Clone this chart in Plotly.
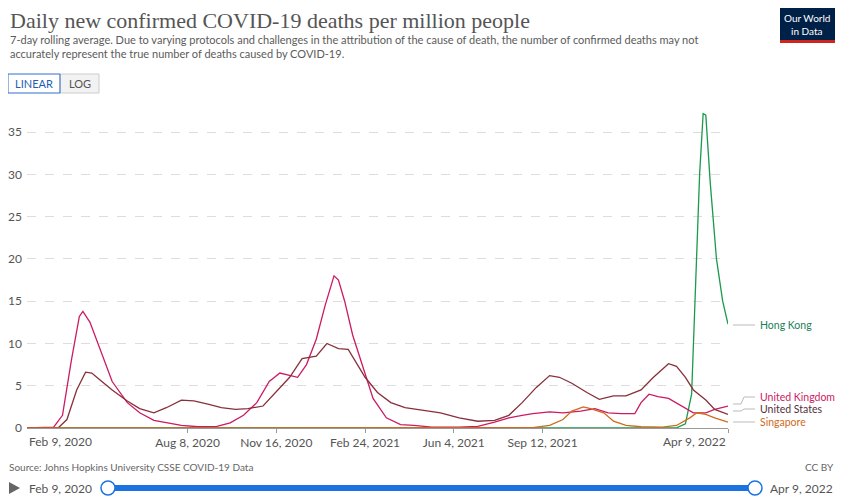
import plotly.graph_objects as go

uk_d = ["2020-02-09","2020-03-10","2020-03-20","2020-03-30","2020-04-08","2020-04-12","2020-04-20","2020-05-01","2020-05-15","2020-06-01","2020-06-15","2020-07-01","2020-07-15","2020-08-01","2020-08-20","2020-09-10","2020-09-25","2020-10-10","2020-10-25","2020-11-08","2020-11-20","2020-12-01","2020-12-10","2020-12-20","2020-12-31","2021-01-10","2021-01-20","2021-01-25","2021-02-01","2021-02-10","2021-02-24","2021-03-05","2021-03-20","2021-04-05","2021-04-20","2021-05-10","2021-06-10","2021-07-01","2021-07-20","2021-08-05","2021-08-20","2021-09-01","2021-09-20","2021-10-05","2021-10-25","2021-11-10","2021-11-25","2021-12-10","2021-12-25","2022-01-01","2022-01-10","2022-01-20","2022-02-01","2022-02-15","2022-03-01","2022-03-15","2022-03-25","2022-04-09"]
uk_v = [0,0.1,1.5,8,13.2,13.8,12.5,9.5,5.5,3,1.8,0.9,0.6,0.3,0.15,0.2,0.6,1.5,3,5.5,6.5,6.2,6,7.5,10.5,14.5,18,17.5,15,11,6.5,3.5,1.2,0.4,0.3,0.1,0.1,0.2,0.7,1.2,1.5,1.7,1.9,1.8,2.0,2.3,1.8,1.7,1.7,3,4.0,3.7,3.5,2.6,1.8,1.8,2.2,2.6]

us_d = ["2020-02-09","2020-03-15","2020-03-25","2020-04-05","2020-04-15","2020-04-22","2020-05-01","2020-05-15","2020-06-01","2020-06-15","2020-07-01","2020-07-15","2020-08-01","2020-08-15","2020-09-01","2020-09-15","2020-10-01","2020-10-15","2020-11-01","2020-11-16","2020-12-01","2020-12-15","2020-12-31","2021-01-12","2021-01-25","2021-02-05","2021-02-24","2021-03-10","2021-03-25","2021-04-10","2021-05-01","2021-05-20","2021-06-10","2021-07-01","2021-07-20","2021-08-05","2021-08-20","2021-09-05","2021-09-20","2021-10-01","2021-10-15","2021-11-01","2021-11-15","2021-12-01","2021-12-15","2022-01-01","2022-01-15","2022-02-01","2022-02-10","2022-02-20","2022-03-01","2022-03-15","2022-03-25","2022-04-09"]
us_v = [0,0,1,4.5,6.6,6.5,5.7,4.5,3.2,2.3,1.8,2.4,3.3,3.2,2.8,2.4,2.2,2.3,2.6,4.3,6,8.2,8.5,10,9.4,9.3,6,4.2,3,2.4,2.1,1.8,1.2,0.8,0.9,1.5,3,4.8,6.2,6,5.3,4.2,3.4,3.8,3.8,4.5,6,7.6,7.3,6,4.5,3.3,2.2,1.6]

hk_d = ["2020-02-09","2020-08-10","2020-09-01","2022-02-10","2022-02-20","2022-02-27","2022-03-03","2022-03-08","2022-03-12","2022-03-15","2022-03-20","2022-03-27","2022-04-03","2022-04-09"]
hk_v = [0,0.05,0,0.02,0.5,4,15,30,37.2,37,29,20,15,12.3]

sg_d = ["2020-02-09","2021-09-01","2021-09-20","2021-10-05","2021-10-15","2021-10-28","2021-11-05","2021-11-20","2021-12-01","2021-12-15","2022-01-01","2022-01-25","2022-02-10","2022-02-25","2022-03-05","2022-03-15","2022-03-25","2022-04-09"]
sg_v = [0,0.05,0.3,1.0,2.0,2.5,2.3,1.8,0.8,0.3,0.15,0.1,0.3,1.2,1.8,1.6,1.2,0.7]

tick_vals = ["2020-08-08","2020-11-16","2021-02-24","2021-06-04","2021-09-12","2022-04-09"]
tick_text = ["Aug 8, 2020","Nov 16, 2020","Feb 24, 2021","Jun 4, 2021","Sep 12, 2021",""]
first_label = "Feb 9, 2020"
last_label = "Apr 9, 2022"

series = [("Hong Kong", hk_d, hk_v, "#1a9a4a", "#18805a"),
          ("United Kingdom", uk_d, uk_v, "#cc1a63", "#cc1a63"),
          ("United States", us_d, us_v, "#883039", "#55303a"),
          ("Singapore", sg_d, sg_v, "#d06a1a", "#d06a1a")]

OFF = 8  # page body margin
W, H = 843 - OFF, 501 - OFF
L = 27 - OFF
T = 100 - OFF
R = W - (728 - OFF)
B = H - (428 - OFF)
pw, ph = W - L - R, H - T - B
def px(x): return (x - OFF - L) / pw
def py(y): return (H - B - (y - OFF)) / ph

fig = go.Figure()
for name, d, v, c, lc in series:
    fig.add_trace(go.Scatter(x=d, y=v, mode="lines", line=dict(color=c, width=1.3), name=name, hoverinfo="skip"))

ann = []
shapes = []
lab_y = {"Hong Kong": 325, "United Kingdom": 397, "United States": 409, "Singapore": 422}
end_y = {"Hong Kong": 325, "United Kingdom": 404, "United States": 411, "Singapore": 422}
for name, d, v, c, lc in series:
    ann.append(dict(x=px(758), y=py(lab_y[name]), xref="paper", yref="paper", text=name, showarrow=False,
                    xanchor="left", yanchor="middle", font=dict(color=lc, size=10.5, family="Lato")))
    y0, y1 = py(end_y[name]), py(lab_y[name])
    shapes.append(dict(type="path", xref="paper", yref="paper",
                       path=f"M {px(733)} {y0} L {px(741)} {y0} L {px(744)} {y1} L {px(755)} {y1}",
                       line=dict(color="#bbb", width=1)))

def A(x, y, text, size, color, xa="left", ya="middle", family="Lato", **kw):
    return dict(x=px(x), y=py(y), xref="paper", yref="paper", text=text, showarrow=False,
                xanchor=xa, yanchor=ya, font=dict(family=family, size=size, color=color), **kw)

ann += [
    A(8, 20, "Daily new confirmed COVID-19 deaths per million people", 22, "#555", family="Liberation Serif, serif"),
    A(8, 47, "7-day rolling average. Due to varying protocols and challenges in the attribution of the cause of death, the number of confirmed deaths may not<br>accurately represent the true number of deaths caused by COVID-19.", 11, "#5b5b5b", align="left"),
    A(34, 84, "LINEAR", 11, "#1d5eb5", xa="center"),
    A(80, 84, "LOG", 11, "#555", xa="center"),
    A(807, 18, "Our World", 10, "white", xa="center"),
    A(807, 31, "in Data", 10, "white", xa="center"),
    A(7, 467, "Source: Johns Hopkins University CSSE COVID-19 Data", 10, "#666"),
    A(836, 467, "CC BY", 10, "#666", xa="right"),
    A(27, 488, "Feb 9, 2020", 12, "#555"),
    A(768, 488, "Apr 9, 2022", 12, "#555"),
    A(27, 432, first_label, 12, "#555", ya="top"),
    A(728, 432, last_label, 12, "#555", xa="right", ya="top"),
]
def S(kind, x0, y0, x1, y1, **kw):
    return dict(type=kind, xref="paper", yref="paper", x0=px(x0), x1=px(x1), y0=py(y0), y1=py(y1), **kw)
shapes += [
    S("rect", 8, 74, 60, 93, line=dict(color="#2f6fd0", width=1), fillcolor="rgba(0,0,0,0)"),
    S("rect", 60, 74, 99, 93, line=dict(color="#ccc", width=1), fillcolor="#f2f2f2", layer="below"),
    S("rect", 780, 8, 835, 40, line=dict(width=0), fillcolor="#002147", layer="below"),
    S("rect", 780, 40, 835, 43, line=dict(width=0), fillcolor="#ce261e"),
    dict(type="path", xref="paper", yref="paper", path=f"M {px(9)} {py(482)} L {px(20)} {py(488)} L {px(9)} {py(494)} Z", fillcolor="#666", line=dict(width=0)),
    S("rect", 108, 485, 756, 491, line=dict(width=0), fillcolor="#1a73e0"),
    S("circle", 101, 481, 115, 495, line=dict(color="#1a73e0", width=1.5), fillcolor="white"),
    S("circle", 748, 481, 762, 495, line=dict(color="#1a73e0", width=1.5), fillcolor="white"),
]

fig.update_layout(
    width=W, height=H, margin=dict(l=L, r=R, t=T, b=B, autoexpand=False),
    plot_bgcolor="white", paper_bgcolor="white", showlegend=False,
    annotations=ann, shapes=shapes,
    xaxis=dict(range=["2020-02-09", "2022-04-09"], tickvals=tick_vals, ticktext=tick_text, showgrid=False, automargin=False,
               showline=True, linecolor="#999", ticks="outside", ticklen=4, tickcolor="#999",
               tickfont=dict(family="Lato", size=12, color="#555")),
    yaxis=dict(range=[0, 38.8], tickvals=[0, 5, 10, 15, 20, 25, 30, 35], gridcolor="#ddd", griddash="dash", automargin=False,
               zeroline=False, tickfont=dict(family="Lato", size=12, color="#555"), ticklabelstandoff=4),
)
fig.write_html("out.html")
